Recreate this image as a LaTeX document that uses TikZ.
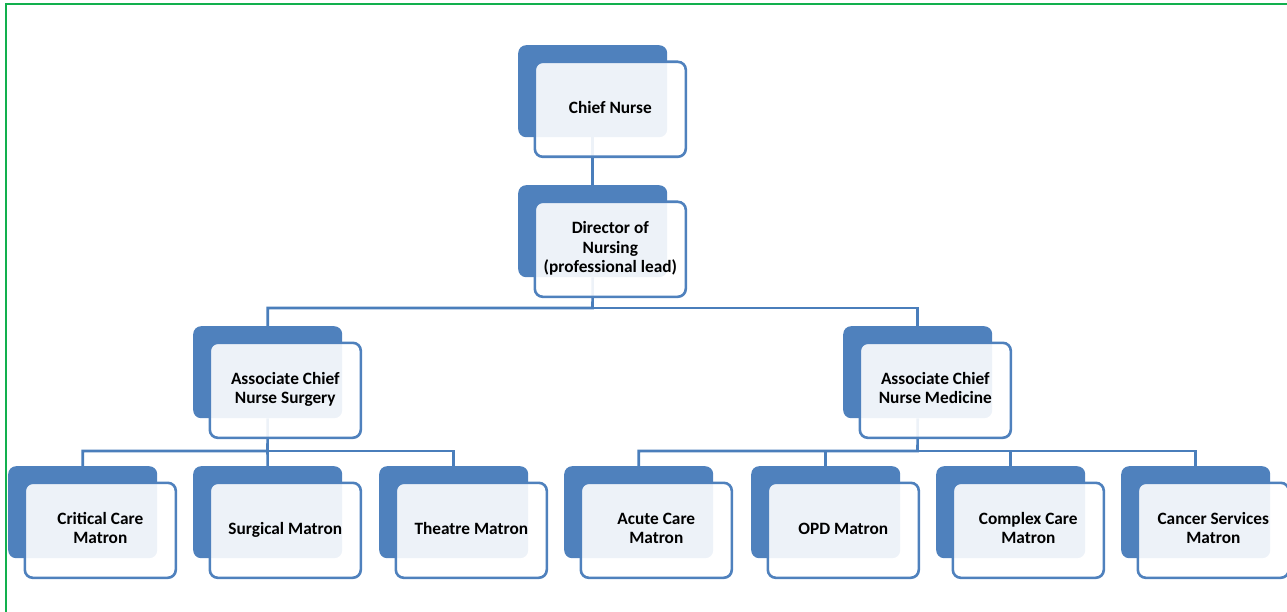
\documentclass[tikz,border=0pt]{standalone}
\usepackage{fontspec}
\setmainfont{Carlito}
\definecolor{unitblue}{HTML}{4F81BD}
\definecolor{linkblue}{HTML}{4A7EBB}
\definecolor{frame}{HTML}{12B04E}
\pgfdeclarelayer{links}
\pgfsetlayers{links,main}
\begin{document}
\begin{tikzpicture}[x=1pt,y=-1pt,
  backbox/.style={rectangle, rounded corners=8pt, fill=unitblue, draw=none,
    minimum width=149pt, minimum height=92pt, anchor=north west, inner sep=0pt},
  frontbox/.style={rectangle, rounded corners=8pt, draw=unitblue, line width=2.6pt,
    fill=white, fill opacity=0.9, minimum width=151pt, minimum height=95pt,
    anchor=north west, inner sep=0pt},
  label/.style={align=center, inner sep=0pt,
    font=\bfseries\fontsize{17.3}{19.5}\selectfont},
  link/.style={draw=linkblue, line width=2.6pt}]
\useasboundingbox (0,0) rectangle (1287,612);
% page frame
\draw[frame, line width=2pt] (5.5,612) -- (5.5,4.5) -- (1287,4.5);

% one unit: shadow block at (#2,#3), framed box offset from it, centred text
\newcommand{\orgunit}[4]{%
  \node[backbox] (#1) at (#2,#3) {};
  \node[frontbox] (#1f) at ({#2+15.5},{#3+15.5}) {};
  \node[label] (#1t) at (#1f.center) {\strut #4\strut};}

\orgunit{chief}{518}{45}{Chief Nurse}
\orgunit{dir}{518}{185}{Director of\\Nursing\\(professional lead)}
\orgunit{acs}{193}{326}{Associate Chief\\Nurse Surgery}
\orgunit{acm}{843}{326}{Associate Chief\\Nurse Medicine}
\orgunit{cc}{8}{466}{Critical Care\\Matron}
\orgunit{sm}{193}{466}{Surgical Matron}
\orgunit{tm}{379}{466}{Theatre Matron}
\orgunit{ac}{564}{466}{Acute Care\\Matron}
\orgunit{opd}{751}{466}{OPD Matron}
\orgunit{cx}{936}{466}{Complex Care\\Matron}
\orgunit{cs}{1121}{466}{Cancer Services\\Matron}

\coordinate (bus1) at (592.5,308);
\coordinate (bus2) at (267.5,451);
\coordinate (bus3) at (917.5,451);

\begin{pgfonlayer}{links}
  \path[link] (chief.south) -- (dir.north);
  \path[link] (dir.south) -- (bus1) -| (acs.north);
  \path[link] (bus1) -| (acm.north);
  \path[link] (acs.south) -- (bus2) -| (cc.north);
  \path[link] (bus2) -| (tm.north);
  \path[link] (bus2) -- (sm.north);
  \path[link] (acm.south) -- (bus3) -| (ac.north);
  \path[link] (bus3) -| (cs.north);
  \path[link] (bus3) -| (opd.north);
  \path[link] (bus3) -| (cx.north);
\end{pgfonlayer}
\end{tikzpicture}
\end{document}
